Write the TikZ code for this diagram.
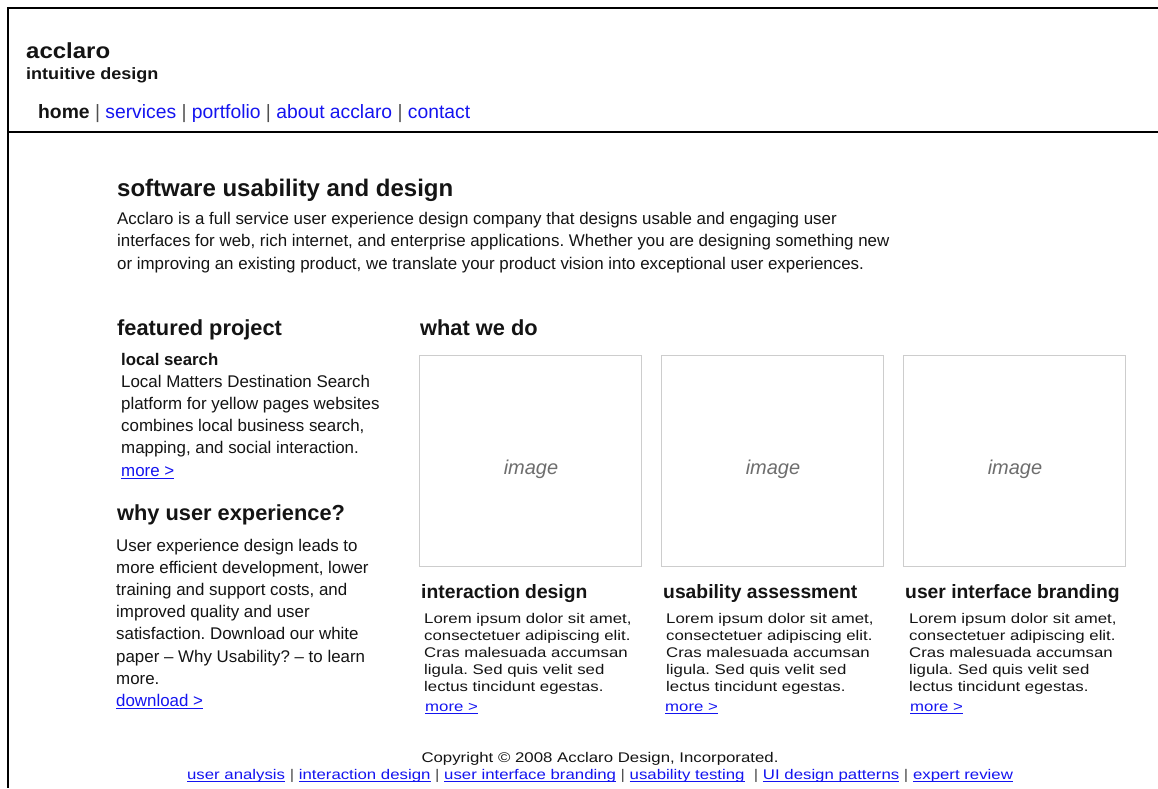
\documentclass[tikz,border=0pt]{standalone}
\usepackage{fontspec}
\setmainfont{Liberation Sans}
\newfontfamily\widefont[FakeStretch=1.2]{Liberation Sans}
\newfontfamily\hdrfont[FakeStretch=1.1]{Liberation Sans}
\definecolor{linkc}{RGB}{20,20,240}
\definecolor{txtc}{RGB}{20,20,20}
\definecolor{sepc}{RGB}{80,80,80}
\definecolor{boxc}{RGB}{205,205,205}
\definecolor{imgc}{RGB}{110,110,110}
\newcommand\mylink[1]{{\color{linkc}\setbox0\hbox{#1}\rlap{\rule[-2.6pt]{\wd0}{1pt}}\box0}}
\newcommand\sep{{\color{sepc}|}}
\frenchspacing
\begin{document}
\begin{tikzpicture}[x=1pt,y=-1pt,
  txt/.style={anchor=base west, inner sep=0, text=txtc},
  para/.style={txt, font=\fontsize{16.9}{20}\selectfont},
  lorem/.style={txt, font=\widefont\fontsize{14}{17}\selectfont},
  hd/.style={txt, font=\bfseries\fontsize{21.8}{26}\selectfont},
  sub/.style={txt, font=\bfseries\fontsize{19.3}{23}\selectfont},
  imgbox/.style={draw=boxc, line width=1pt, minimum width=222pt, minimum height=211pt, inner sep=0},
  imgtxt/.style={anchor=base, inner sep=0, text=imgc, font=\itshape\fontsize{20}{24}\selectfont},
  frame/.style={line width=1.3pt, draw=black}]
\useasboundingbox (0,0) rectangle (1158,788);
\fill[white] (0,0) rectangle (1158,788);
% frame
\coordinate (tl) at (8,8);
\coordinate (tr) at (1158,8);
\coordinate (bl) at (8,788);
\coordinate (hl) at (8,132);
\coordinate (hr) at (1158,132);
\draw[frame] (tr) -- (tl) -- (bl);
\draw[frame] (hl) -- (hr);
% header
\node[txt, font=\hdrfont\bfseries\fontsize{21.8}{26}\selectfont] (logo) at (26,58) {acclaro};
\node[txt, font=\hdrfont\bfseries\fontsize{16.4}{20}\selectfont] (tag) at (26,79) {intuitive design};
\node[txt, font=\fontsize{19.3}{23}\selectfont] (nav) at (38,118)
  {\textbf{home} \sep{} \textcolor{linkc}{services} \sep{} \textcolor{linkc}{portfolio} \sep{} \textcolor{linkc}{about acclaro} \sep{} \textcolor{linkc}{contact}};
% intro
\node[txt, font=\bfseries\fontsize{24}{28}\selectfont] (title) at (117,196) {software usability and design};
\foreach \t [count=\i] in {{Acclaro is a full service user experience design company that designs usable and engaging user},
  {interfaces for web, rich internet, and enterprise applications. Whether you are designing something new},
  {or improving an existing product, we translate your product vision into exceptional user experiences.}}
  \node[para] (intro\i) at (117,{224+22.5*(\i-1)}) {\t};
% featured project
\node[hd] (feat) at (117,335) {featured project};
\node[txt, font=\bfseries\fontsize{16.8}{20}\selectfont] (local) at (121,365) {local search};
\foreach \t [count=\i] in {{Local Matters Destination Search},{platform for yellow pages websites},
  {combines local business search,},{mapping, and social interaction.}}
  \node[para] (fp\i) at (121,{387+22.3*(\i-1)}) {\t};
\node[para] (fpmore) at (121,476) {\mylink{more >}};
% why ux
\node[hd] (why) at (117,520) {why user experience?};
\foreach \t [count=\i] in {{User experience design leads to},{more efficient development, lower},
  {training and support costs, and},{improved quality and user},{satisfaction. Download our white},
  {paper -- Why Usability? -- to learn},{more.}}
  \node[para] (ux\i) at (116,{551+22.2*(\i-1)}) {\t};
\node[para] (uxdl) at (116,706) {\mylink{download >}};
% what we do
\node[hd] (what) at (420,335) {what we do};
\foreach \c/\bx/\hx/\tx/\mx/\ttl in {1/530/421/424/425/interaction design, 2/772/663/666/665/usability assessment, 3/1014/905/909/910/user interface branding}{
  \node[imgbox] (box\c) at (\bx,460.5) {};
  \node[imgtxt] (img\c) at ({\bx+1},474) {image};
  \node[sub] (sv\c) at (\hx,598) {\ttl};
  \foreach \t [count=\i] in {{Lorem ipsum dolor sit amet,},{consectetuer adipiscing elit.},{Cras malesuada accumsan},
    {ligula. Sed quis velit sed},{lectus tincidunt egestas.}}
    \node[lorem] (lo\c-\i) at (\tx,{623+17*(\i-1)}) {\t};
  \node[lorem] (more\c) at (\mx,711) {\mylink{more >}};
}
% footer
\node[lorem, anchor=base] (copy) at (600,762) {Copyright \textcopyright{} 2008 Acclaro Design, Incorporated.};
\node[lorem, anchor=base] (links) at (600,779) {\mylink{user analysis} \sep{} \mylink{interaction design} \sep{} \mylink{user interface branding} \sep{} \mylink{usability testing}\ \ \sep{} \mylink{UI design patterns} \sep{} \mylink{expert review}};
\end{tikzpicture}
\end{document}
